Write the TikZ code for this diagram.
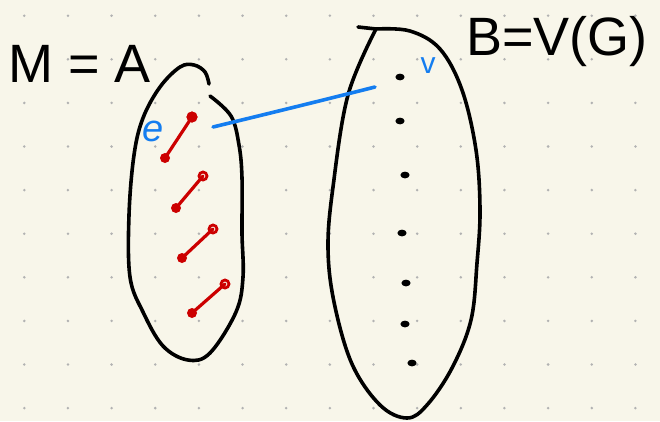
\documentclass[tikz,border=0pt]{standalone}
\usepackage{fontspec}
\setmainfont{Liberation Sans}
\begin{document}
\begin{tikzpicture}[x=1pt,y=-1pt,
  ink/.style={line width=3.6pt,line cap=round,line join=round,black},
  redink/.style={line width=3.2pt,line cap=round,red!80!black},
  blueink/.style={line width=3.6pt,line cap=round,color=bluepen},
  bigtext/.style={font=\fontsize{54}{60}\selectfont,inner sep=0pt},
  smalltext/.style={font=\fontsize{38}{42}\selectfont\itshape,inner sep=0pt,text=bluepen},
  griddot/.style={fill=gray!60}
]
\definecolor{bluepen}{RGB}{20,125,240}
\definecolor{paper}{RGB}{248,246,234}
\useasboundingbox (0,0) rectangle (660,421);
\fill[paper] (0,0) rectangle (660,421);
% dot grid
\foreach \i in {0,...,14}{
  \foreach \j in {0,...,9}{
    \fill[griddot] ({24.3+43.65*\i},{15.7+43.6*\j}) circle (1.4pt);
  }
}
% titles
\node[bigtext,anchor=base west] (Mlabel) at (8,82) {M = A};
\node[bigtext,anchor=base west] (Blabel) at (466,55) {B=V(G)};
% blob A (open at top right)
\draw[ink] plot[smooth,tension=0.6] coordinates {
  (209,84) (205,72) (194,65) (180,67) (160,87) (143,118) (134,155)
  (129,215) (130,277) (143,312) (163,346) (188,360) (210,353)
  (236,312) (243,277) (242,233) (242,178) (239,145) (231,116) (210,96)};
% blob B
\draw[ink] (358,27) -- (376,29);
\draw[ink] plot[smooth,tension=0.6] coordinates {
  (376,29) (410,31) (440,49) (462,90) (476,150) (480,210) (477,263)
  (471,320) (452,368) (427,405) (407,418) (380,405) (352,364)
  (334,302) (328,247) (333,187) (348,95) (376,29)};
% matching edges in A
\foreach \ax/\ay/\bx/\by in {165/158/192/117, 176/208/203/176, 182/258/213/229, 192/313/225/284}{
  \draw[redink] (\ax,\ay) -- (\bx,\by);
  \fill[red!80!black] (\ax,\ay) circle (5pt);
  \draw[redink,line width=2.8pt] (\bx,\by) circle (4pt);
}
\fill[red!80!black] (192,117) circle (5.5pt);
% vertices in B
\foreach \px/\py in {400/77, 400/121, 405/175, 402/233, 406/283, 405/324, 412/363}{
  \fill[black] (\px,\py) ellipse (4.6pt and 3.4pt);
}
% labels e and v
\node[smalltext] (elabel) at (153,131) {e};
\node[smalltext,font=\fontsize{30}{34}\selectfont] (vlabel) at (428,66) {v};
% connector
\coordinate (eend) at (213,127);
\coordinate (vend) at (375,87);
\draw[blueink] (eend) .. controls (250,118) and (320,101) .. (vend);
\end{tikzpicture}
\end{document}
